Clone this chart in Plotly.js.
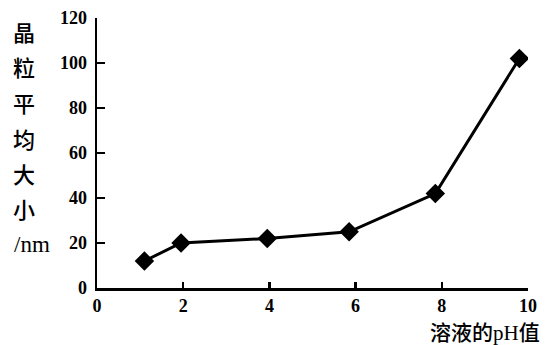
<!DOCTYPE html>
<html>
<head>
<meta charset="utf-8">
<script src="https://cdn.plot.ly/plotly-3.0.1.min.js"></script>
<style>
  html, body { margin: 0; padding: 0; background: #fff; }
  #chart { width: 552px; height: 345px; }
</style>
</head>
<body>
<div id="chart"></div>
<script>
// ---- data ----
const phValues = [1.1, 1.95, 3.95, 5.85, 7.85, 9.8];
const grainSize = [12, 20, 22, 25, 42, 102];
const xTickVals = [0, 2, 4, 6, 8, 10];
const yTickVals = [0, 20, 40, 60, 80, 100, 120];
const yTitleLines = ['晶', '粒', '平', '均', '大', '小', '/nm'];
const xTitleText = '溶液的<span style="font-family:Liberation Serif">pH</span>值';

// ---- layout geometry (pixels) ----
const W = 552, H = 345;
const M = { l: 97, r: 24, t: 18, b: 57 };
const plotW = W - M.l - M.r, plotH = H - M.t - M.b;
const px = X => (X - M.l) / plotW;
const py = Y => (H - M.b - Y) / plotH;

const numFont = { family: 'Liberation Serif, serif', size: 18, color: '#000', weight: 'bold' };
const cjkFont = { family: 'Noto Sans CJK SC, sans-serif', size: 22, color: '#000', weight: 500 };

const annotations = yTitleLines.map((t, i) => ({
  text: t,
  xref: 'paper', yref: 'paper',
  x: px(t.startsWith('/') ? 32 : 24), y: py(31 + i * 35.5),
  xanchor: 'center', yanchor: 'middle',
  showarrow: false,
  font: t.startsWith('/') ? { family: 'Liberation Serif, serif', size: 23, color: '#000' } : cjkFont
}));
annotations.push({
  text: xTitleText,
  xref: 'paper', yref: 'paper',
  x: px(541), y: py(331),
  xanchor: 'right', yanchor: 'middle',
  showarrow: false, borderpad: 0,
  font: { family: 'Noto Sans CJK SC, sans-serif', size: 21, color: '#000', weight: 500 }
});

const trace = {
  x: phValues, y: grainSize,
  type: 'scatter', mode: 'lines+markers',
  line: { color: '#000', width: 3 },
  marker: { symbol: 'diamond', size: 15, color: '#000' },
  hoverinfo: 'skip'
};

const layout = {
  width: W, height: H,
  margin: M,
  paper_bgcolor: '#fff', plot_bgcolor: '#fff',
  showlegend: false,
  xaxis: {
    range: [0, 10], tickvals: xTickVals, ticktext: xTickVals.map(String),
    showline: true, linecolor: '#000', linewidth: 2.5,
    ticks: 'inside', ticklen: 6, tickwidth: 2.5, tickcolor: '#000',
    showgrid: false, zeroline: false,
    tickfont: numFont, ticklabelstandoff: 0
  },
  yaxis: {
    range: [0, 120], tickvals: yTickVals, ticktext: yTickVals.map(String),
    showline: true, linecolor: '#000', linewidth: 2.5,
    ticks: 'inside', ticklen: 8, tickwidth: 2.5, tickcolor: '#000',
    showgrid: false, zeroline: false,
    tickfont: numFont, ticklabelstandoff: 4
  },
  annotations: annotations
};

Plotly.newPlot('chart', [trace], layout, { staticPlot: true, displayModeBar: false });
</script>
</body>
</html>
